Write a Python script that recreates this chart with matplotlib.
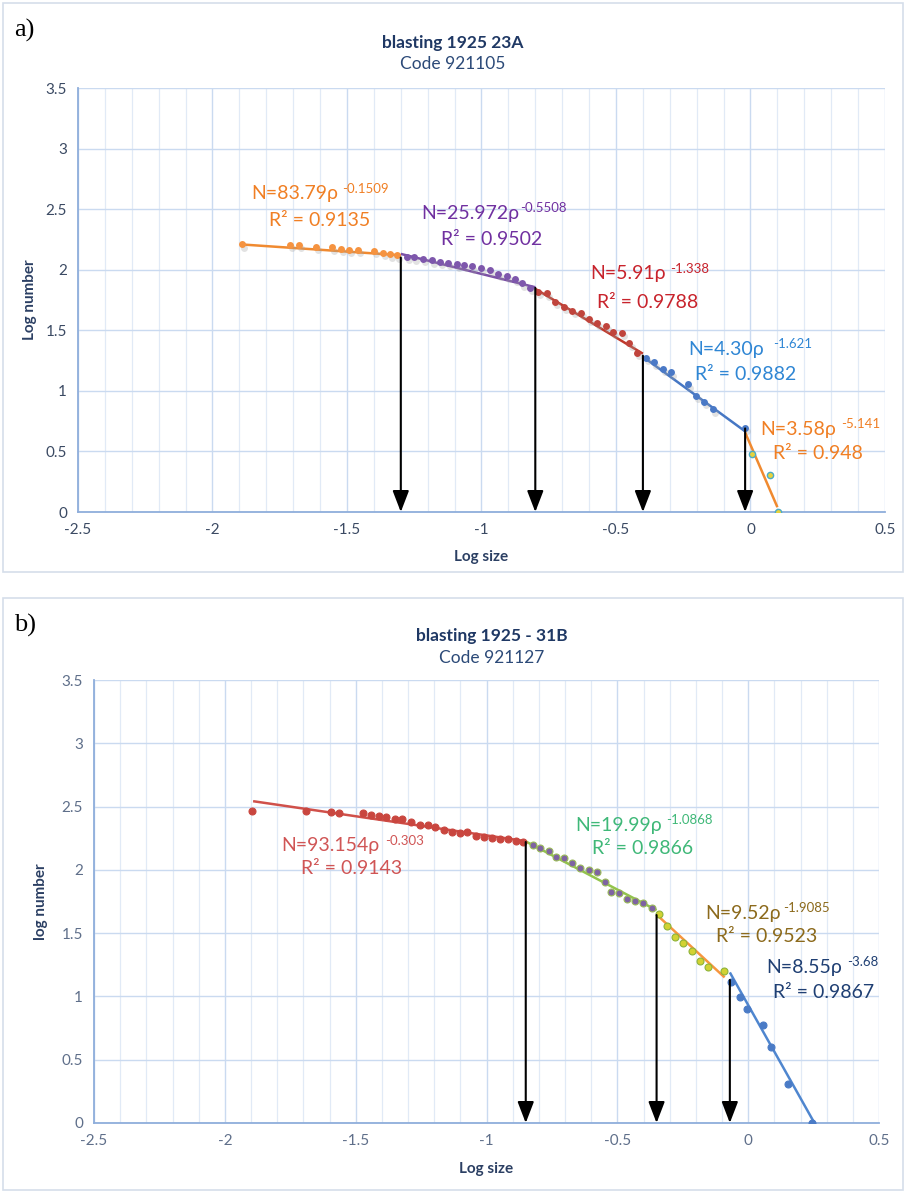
import matplotlib
matplotlib.use("Agg")
import matplotlib.pyplot as plt
import numpy as np
from matplotlib.patches import Rectangle
from matplotlib.ticker import MultipleLocator
import matplotlib.transforms as mtransforms

plt.rcParams['font.family'] = ['Lato', 'DejaVu Sans']

# ---------------- data: panel a ----------------
a_title = "blasting 1925 23A"
a_code = "Code 921105"
a_seg1_x = [-1.891, -1.712, -1.678, -1.615, -1.556, -1.522, -1.493, -1.460, -1.400, -1.367, -1.340, -1.315]
a_seg1_y = [2.210, 2.207, 2.205, 2.190, 2.186, 2.172, 2.166, 2.163, 2.155, 2.139, 2.128, 2.120]
a_seg2_x = [-1.278, -1.251, -1.217, -1.185, -1.154, -1.126, -1.092, -1.064, -1.034, -1.003, -0.968, -0.937, -0.906, -0.876, -0.848, -0.820]
a_seg2_y = [2.108, 2.103, 2.089, 2.078, 2.067, 2.059, 2.045, 2.040, 2.029, 2.015, 1.998, 1.968, 1.951, 1.924, 1.889, 1.852]
a_seg3_x = [-0.789, -0.758, -0.727, -0.693, -0.662, -0.630, -0.599, -0.570, -0.537, -0.510, -0.479, -0.450, -0.423]
a_seg3_y = [1.819, 1.806, 1.737, 1.695, 1.660, 1.646, 1.594, 1.563, 1.536, 1.489, 1.481, 1.393, 1.316]
a_seg4_x = [-0.388, -0.358, -0.324, -0.296, -0.234, -0.204, -0.172, -0.141, -0.019]
a_seg4_y = [1.274, 1.236, 1.181, 1.153, 1.054, 0.960, 0.911, 0.848, 0.696]
a_seg5_x = [0.007, 0.072, 0.101]
a_seg5_y = [0.476, 0.306, 0.002]
# power-law fits: coefficient, exponent, x range, R²
a_fit_coef = [83.79, 25.972, 5.91, 4.30, 3.58]
a_fit_exp = [-0.1509, -0.5508, -1.338, -1.621, -5.141]
a_fit_x0 = [-1.891, -1.30, -0.80, -0.40, -0.02]
a_fit_x1 = [-1.30, -0.80, -0.40, -0.02, 0.10]
a_r2 = ["0.9135", "0.9502", "0.9788", "0.9882", "0.948"]
a_coef_txt = ["83.79", "25.972", "5.91", "4.30", "3.58"]
a_exp_txt = ["-0.1509", "-0.5508", "-1.338", "-1.621", "-5.141"]
a_arrow_x = [-1.30, -0.80, -0.40, -0.02]
a_arrow_top = [2.10, 1.85, 1.29, 0.69]

# ---------------- data: panel b ----------------
b_title = "blasting 1925 - 31B"
b_code = "Code 921127"
b_seg1_x = [-1.898, -1.688, -1.595, -1.564, -1.472, -1.440, -1.411, -1.383, -1.351, -1.322, -1.287, -1.256, -1.224,
            -1.195, -1.163, -1.131, -1.103, -1.074, -1.039, -1.010, -0.980, -0.948, -0.919, -0.887, -0.861]
b_seg1_y = [2.467, 2.467, 2.454, 2.451, 2.451, 2.435, 2.427, 2.415, 2.399, 2.399, 2.378, 2.357, 2.357,
            2.336, 2.315, 2.299, 2.293, 2.296, 2.269, 2.261, 2.253, 2.246, 2.240, 2.228, 2.222]
b_seg2_x = [-0.823, -0.795, -0.763, -0.734, -0.702, -0.673, -0.642, -0.609, -0.579, -0.546, -0.524, -0.495, -0.464, -0.431, -0.401, -0.368]
b_seg2_y = [2.196, 2.170, 2.148, 2.104, 2.091, 2.051, 2.017, 1.998, 1.980, 1.906, 1.827, 1.814, 1.767, 1.756, 1.740, 1.700]
b_seg3_x = [-0.340, -0.310, -0.280, -0.248, -0.215, -0.184, -0.153, -0.094]
b_seg3_y = [1.648, 1.556, 1.472, 1.424, 1.359, 1.280, 1.235, 1.200]
b_seg4_x = [-0.064, -0.032, -0.003, 0.058, 0.089, 0.153, 0.243]
b_seg4_y = [1.116, 0.998, 0.898, 0.774, 0.603, 0.306, 0.002]
b_fit_coef = [93.154, 19.99, 9.52, 8.55]
b_fit_exp = [-0.303, -1.0868, -1.9085, -3.68]
b_fit_x0 = [-1.892, -0.85, -0.35, -0.07]
b_fit_x1 = [-0.85, -0.35, -0.09, 0.253]
b_r2 = ["0.9143", "0.9866", "0.9523", "0.9867"]
b_coef_txt = ["93.154", "19.99", "9.52", "8.55"]
b_exp_txt = ["-0.303", "-1.0868", "-1.9085", "-3.68"]
b_arrow_x = [-0.85, -0.35, -0.07]
b_arrow_top = [2.22, 1.643, 1.13]

x_ticks = [-2.5, -2, -1.5, -1, -0.5, 0, 0.5]
x_tick_labels = ["-2.5", "-2", "-1.5", "-1", "-0.5", "0", "0.5"]
y_ticks = [0, 0.5, 1, 1.5, 2, 2.5, 3, 3.5]
y_tick_labels = ["0", "0.5", "1", "1.5", "2", "2.5", "3", "3.5"]

# ---------------- figure ----------------
W, H = 906, 1192
fig = plt.figure(figsize=(W / 100, H / 100), dpi=100)
fig.patch.set_facecolor("white")


def P(x, y):
    return (x / W, 1 - y / H)


def ax_rect(l, t, r, b):
    return [l / W, 1 - b / H, (r - l) / W, (b - t) / H]


# panel frames
for (l, t, r, b) in [(3, 3, 903, 572), (3, 598, 903, 1190)]:
    fig.patches.append(Rectangle((l / W, 1 - b / H), (r - l) / W, (b - t) / H, transform=fig.transFigure,
                                 fill=False, edgecolor="#D5DEEA", lw=1.2))


def setup_axes(ax, tick_color):
    ax.set_xlim(-2.5, 0.5)
    ax.set_ylim(0, 3.5)
    ax.set_xticks(x_ticks)
    ax.set_xticklabels(x_tick_labels)
    ax.set_yticks(y_ticks)
    ax.set_yticklabels(y_tick_labels)
    ax.xaxis.set_minor_locator(MultipleLocator(0.1))
    ax.grid(which="major", color="#CADAF0", lw=1.0)
    ax.grid(which="minor", axis="x", color="#E1EAF6", lw=0.9)
    ax.tick_params(which="both", length=0, labelsize=11, colors=tick_color, pad=8)
    for s in ["top", "right"]:
        ax.spines[s].set_visible(False)
    for s in ["left", "bottom"]:
        ax.spines[s].set_color("#8FAEDB")
        ax.spines[s].set_linewidth(1.3)
    ax.set_axisbelow(True)


def fit_line(ax, coef, exp, x0, x1, color):
    xs = np.linspace(x0, x1, 50)
    ax.plot(xs, np.log10(coef) + exp * xs, color=color, lw=1.8, zorder=3, solid_capstyle="butt")


def arrows(ax, xs, tops):
    for x, t in zip(xs, tops):
        ax.annotate("", xy=(x, 0.0), xytext=(x, t),
                    arrowprops=dict(arrowstyle="-|>,head_length=1.3,head_width=0.5", color="black",
                                    lw=1.5, shrinkA=0, shrinkB=0), zorder=6)


def eq_text(main_xy, gap, r2_xy, coef, exp, r2, color):
    t = fig.text(*P(*main_xy), f"N={coef}\u03c1", color=color, fontsize=14, ha="left", va="center")
    fig.text(0, 0, exp, color=color, fontsize=9.5, ha="left", va="center",
             transform=mtransforms.offset_copy(fig.transFigure, fig=fig, x=0, y=0, units="points"),
             visible=False)
    ann = plt.annotate(exp, xy=(1.0, 0.78), xycoords=t, xytext=(gap, 0), textcoords="offset points",
                       color=color, fontsize=9.5, ha="left", va="center", annotation_clip=False)
    fig.text(*P(*r2_xy), f"R\u00b2 = {r2}", color=color, fontsize=14, ha="left", va="center")
    return ann


# ---------------- panel a ----------------
axa = fig.add_axes(ax_rect(78, 88, 885, 512))
setup_axes(axa, "#3B4A63")
a_line_colors = ["#F08A30", "#7A4FA6", "#C0392B", "#4677C4", "#F08A30"]
a_pt_colors = ["#F59340", "#7E57AC", "#C0443C", "#4A79C6", "#E7D23C"]
a_segs = [(a_seg1_x, a_seg1_y), (a_seg2_x, a_seg2_y), (a_seg3_x, a_seg3_y), (a_seg4_x, a_seg4_y), (a_seg5_x, a_seg5_y)]
shadow = mtransforms.offset_copy(axa.transData, fig=fig, x=1.5, y=-2.5, units="points")
for i, (sx, sy) in enumerate(a_segs):
    fit_line(axa, a_fit_coef[i], a_fit_exp[i], a_fit_x0[i], a_fit_x1[i], a_line_colors[i])
    if i < 4:
        axa.plot(sx, sy, "o", ms=5, color="#A0A0A0", alpha=0.3, mec="none", transform=shadow, zorder=3)
        axa.plot(sx, sy, "o", ms=5, color=a_pt_colors[i], mec="none", zorder=4)
    else:
        axa.plot(sx, sy, "o", ms=4.5, mfc=a_pt_colors[i], mec="#4BACC6", mew=1.0, zorder=4)
arrows(axa, a_arrow_x, a_arrow_top)
axa.set_xlabel("Log size", fontsize=11, fontweight="bold", color="#2B3F63", labelpad=9)
axa.set_ylabel("Log number", fontsize=11, fontweight="bold", color="#2B3F63", labelpad=6)

a_text_colors = ["#F07F24", "#7030A0", "#C8232C", "#2F86D4", "#F07F24"]
a_main_pos = [(251, 194), (421, 213), (590, 274), (688, 349), (760, 429)]
a_sup_gap = [3, 0.5, 3.5, 7, 4]
a_r2_pos = [(269, 221), (441, 240), (597, 303), (695, 375), (773, 453)]
for i in range(5):
    eq_text(a_main_pos[i], a_sup_gap[i], a_r2_pos[i], a_coef_txt[i], a_exp_txt[i], a_r2[i], a_text_colors[i])

fig.text(*P(453, 43), a_title, fontsize=12.5, fontweight="bold", color="#1F3864", ha="center", va="center")
fig.text(*P(453, 64), a_code, fontsize=12.5, color="#2C4A78", ha="center", va="center")
fig.text(*P(14, 30), "a)", fontsize=19, family="Liberation Serif", color="black", ha="left", va="center")

# ---------------- panel b ----------------
axb = fig.add_axes(ax_rect(94, 680, 879, 1123))
setup_axes(axb, "#5F6F8A")
b_line_colors = ["#D0504A", "#92C44C", "#F7963E", "#4F86CF"]
b_segs = [(b_seg1_x, b_seg1_y), (b_seg2_x, b_seg2_y), (b_seg3_x, b_seg3_y), (b_seg4_x, b_seg4_y)]
b_pt_face = ["#C9463F", "#7E63A2", "#D2D232", "#4A7BC6"]
b_pt_edge = ["#C9463F", "#9BBB59", "#8DB33A", "#4A7BC6"]
for i, (sx, sy) in enumerate(b_segs):
    fit_line(axb, b_fit_coef[i], b_fit_exp[i], b_fit_x0[i], b_fit_x1[i], b_line_colors[i])
    axb.plot(sx, sy, "o", ms=5, mfc=b_pt_face[i], mec=b_pt_edge[i], mew=0.8, zorder=4)
arrows(axb, b_arrow_x, b_arrow_top)
axb.set_xlabel("Log size", fontsize=11, fontweight="bold", color="#2B3F63", labelpad=10)
axb.set_ylabel("log number", fontsize=11, fontweight="bold", color="#2B3F63", labelpad=10)

b_text_colors = ["#D05555", "#3FB878", "#8C6A1C", "#1F3F73"]
b_main_pos = [(281, 846), (575, 825), (705, 913), (766, 967)]
b_sup_gap = [4, 3.5, 1.5, 3.5]
b_r2_pos = [(301, 868), (592, 848), (716, 936), (773, 992)]
for i in range(4):
    eq_text(b_main_pos[i], b_sup_gap[i], b_r2_pos[i], b_coef_txt[i], b_exp_txt[i], b_r2[i], b_text_colors[i])

fig.text(*P(492, 636), b_title, fontsize=12.5, fontweight="bold", color="#1F3864", ha="center", va="center")
fig.text(*P(492, 658), b_code, fontsize=12.5, color="#2C4A78", ha="center", va="center")
fig.text(*P(14, 625), "b)", fontsize=19, family="Liberation Serif", color="black", ha="left", va="center")

fig.savefig("out.png", dpi=100)
